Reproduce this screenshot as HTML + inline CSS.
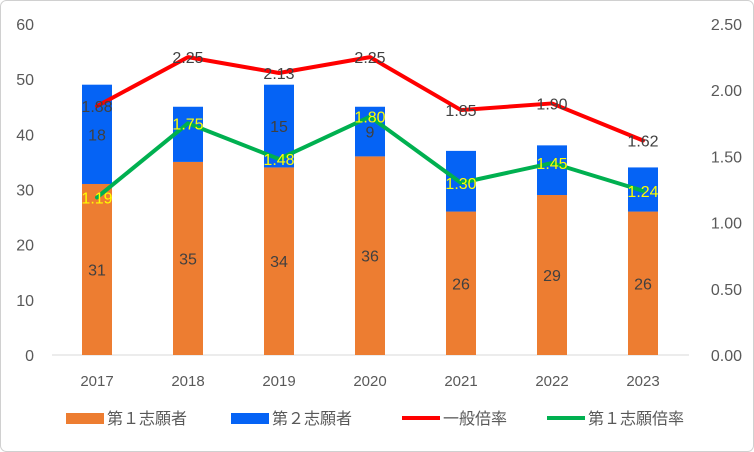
<!DOCTYPE html>
<html><head><meta charset="utf-8"><style>
body{margin:0;background:#fff;}
svg{display:block;font-family:"Liberation Sans","Noto Sans CJK JP",sans-serif;}
</style></head><body>
<svg id="chart" width="754" height="452">
<rect x="0.5" y="0.5" width="753" height="451" rx="6" fill="#fff" stroke="#d0d0d0"/>
<g id="axes"></g><g id="bars"></g><g id="lines"></g><g id="legend"></g>
</svg>
<script>
const categories=["2017","2018","2019","2020","2021","2022","2023"];
const firstChoice=[31,35,34,36,26,29,26];
const secondChoice=[18,10,15,9,11,9,8];
const generalRate=[1.88,2.25,2.13,2.25,1.85,1.90,1.62];
const firstRate=[1.19,1.75,1.48,1.80,1.30,1.45,1.24];
const leftTicks=[0,10,20,30,40,50,60];
const rightTicks=["0.00","0.50","1.00","1.50","2.00","2.50"];

const NS="http://www.w3.org/2000/svg";
const y0=355,y1=24;
const yL=v=>y0-(v/60)*(y0-y1);
const yR=v=>y0-(v/2.5)*(y0-y1);
const xC=i=>97+i*91;
function mk(tag,attrs,parent,text){const e=document.createElementNS(NS,tag);for(const k in attrs)e.setAttribute(k,attrs[k]);if(text!==undefined)e.textContent=text;parent.appendChild(e);return e;}
const axes=document.getElementById('axes'),bars=document.getElementById('bars'),lines=document.getElementById('lines'),legend=document.getElementById('legend');
mk('line',{x1:52,x2:689,y1:y0,y2:y0,stroke:'#d9d9d9'},axes);
leftTicks.forEach(v=>{const t=mk('text',{x:34,y:yL(v)+6,'text-anchor':'end','font-size':16,fill:'#595959'},axes,String(v));

});
rightTicks.forEach(v=>{const t=mk('text',{x:742,y:yR(parseFloat(v))+6,'text-anchor':'end','font-size':16,fill:'#595959'},axes,v);

});
categories.forEach((c,i)=>{const t=mk('text',{x:xC(i),y:386,'text-anchor':'middle','font-size':15,fill:'#595959'},axes,c);

});
const bw=30;
categories.forEach((c,i)=>{
 const a=firstChoice[i],b=secondChoice[i];
 const r1=mk('rect',{x:xC(i)-bw/2,y:yL(a),width:bw,height:y0-yL(a),fill:'#ed7d31'},bars);
 
 
 const r2=mk('rect',{x:xC(i)-bw/2,y:yL(a+b),width:bw,height:yL(a)-yL(a+b),fill:'#0563f5'},bars);
 
 
 const l1=mk('text',{x:xC(i),y:(yL(a)+y0)/2+6,'text-anchor':'middle','font-size':16,fill:'#404040'},bars,String(a));
 
 
 const ly=(yL(a)+yL(a+b))/2;
 if(Math.abs(ly-yR(firstRate[i]))>=12){
 const l2=mk('text',{x:xC(i),y:ly+6,'text-anchor':'middle','font-size':16,fill:'#404040'},bars,String(b));
 
 
 }
});
function line(data,color,labelColor,name){
 const p=mk('polyline',{points:data.map((v,i)=>xC(i)+','+yR(v)).join(' '),fill:'none',stroke:color,'stroke-width':4,'stroke-linejoin':'round','stroke-linecap':'round'},lines);
 
 
 data.forEach((v,i)=>{const t=mk('text',{x:xC(i),y:yR(v)+6,'text-anchor':'middle','font-size':16,fill:labelColor},lines,v.toFixed(2));
 
 });
}
line(generalRate,'#ff0000','#404040','general-rate-line');
line(firstRate,'#00b050','#ffff00','first-rate-line');
const items=[["第１志願者",'rect','#ed7d31',66],["第２志願者",'rect','#0563f5',231],["一般倍率",'line','#ff0000',402],["第１志願倍率",'line','#00b050',547]];
items.forEach(([label,kind,col,x])=>{
 const g=mk('g',{},legend);
 
 
 if(kind==='rect')mk('rect',{x:x,y:413,width:38,height:11,fill:col},g);
 else mk('line',{x1:x,x2:x+38,y1:418,y2:418,stroke:col,'stroke-width':4},g);
 mk('text',{x:x+41,y:424,'font-size':16,fill:'#595959'},g,label);
});
</script>
</body></html>
